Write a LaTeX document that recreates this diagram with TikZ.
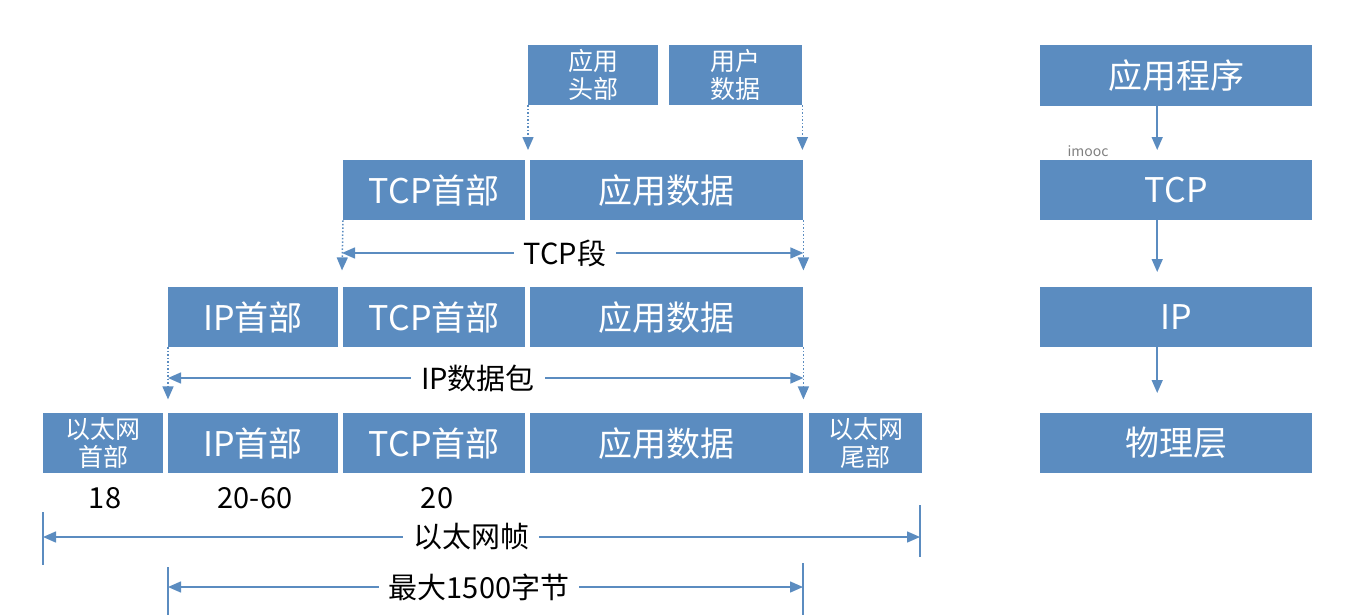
\documentclass[tikz,border=0pt]{standalone}
\usepackage{fontspec}
\setmainfont{Noto Sans CJK SC}
\usetikzlibrary{arrows.meta}
\definecolor{boxblue}{RGB}{91,140,192}

\begin{document}
\begin{tikzpicture}[x=1pt,y=-1pt]
  \tikzset{>={Triangle[length=13pt,width=11pt]}}
  \tikzset{blk/.style={fill=boxblue,text=white,inner sep=0pt,anchor=north west,minimum height=60pt,font=\fontsize{34}{36}\selectfont},
    blksm/.style={blk,align=center,font=\fontsize{25}{28}\selectfont},
    lbl/.style={font=\fontsize{29}{30}\selectfont,inner ysep=2pt,inner xsep=10pt},
    lnk/.style={draw=boxblue,line width=1.5pt},
    dots/.style={lnk,dotted}}
  \useasboundingbox (0,0) rectangle (1364,615);

  % application data
  \node[blksm,minimum width=130pt] (appHdr) at (528,45) {应用\\头部};
  \node[blksm,minimum width=133pt] (usrDat) at (669,45) {用户\\数据};

  % TCP segment
  \node[blk,minimum width=182pt] (tcpA) at (343,160) {TCP首部};
  \node[blk,minimum width=273pt] (datA) at (530,160) {应用数据};

  % IP packet
  \node[blk,minimum width=170pt] (ipB) at (168,287) {IP首部};
  \node[blk,minimum width=182pt] (tcpB) at (343,287) {TCP首部};
  \node[blk,minimum width=273pt] (datB) at (530,287) {应用数据};

  % ethernet frame
  \node[blksm,minimum width=120pt] (ethH) at (43,413) {以太网\\首部};
  \node[blk,minimum width=170pt] (ipC) at (168,413) {IP首部};
  \node[blk,minimum width=182pt] (tcpC) at (343,413) {TCP首部};
  \node[blk,minimum width=273pt] (datC) at (530,413) {应用数据};
  \node[blksm,minimum width=113pt] (ethT) at (809,413) {以太网\\尾部};

  \node[lbl] (n18) at (105,498) {18};
  \node[lbl] (n2060) at (255,498) {20-60};
  \node[lbl] (n20) at (437,498) {20};

  \draw[dots,->,shorten >=10pt] (appHdr.south west) -- (appHdr.south west |- datA.north);
  \draw[dots,->,shorten >=10pt] (usrDat.south east) -- (usrDat.south east |- datA.north);

  \path (tcpA.south west) ++(-1,50) coordinate (segL);
  \path (datA.south east) ++(0,50) coordinate (segR);
  \draw[dots,->] (tcpA.south west) -- (segL);
  \draw[dots,->] (datA.south east) -- (segR);
  \node[lbl] (tcpSeg) at (565,253) {TCP段};
  \draw[lnk,->] (tcpSeg.west) -- (tcpSeg.west -| segL);
  \draw[lnk,->] (tcpSeg.east) -- (tcpSeg.east -| segR);

  \path (ipB.south west) ++(0,52) coordinate (pktL);
  \path (datB.south east) ++(0,52) coordinate (pktR);
  \draw[dots,->] (ipB.south west) -- (pktL);
  \draw[dots,->] (datB.south east) -- (pktR);
  \node[lbl] (ipPkt) at (478,378) {IP数据包};
  \draw[lnk,->] (ipPkt.west) -- (ipPkt.west -| pktL);
  \draw[lnk,->] (ipPkt.east) -- (ipPkt.east -| pktR);

  \coordinate (frmL1) at (43,512);
  \coordinate (frmL2) at (43,565);
  \coordinate (frmR1) at (920,505);
  \coordinate (frmR2) at (920,557);
  \draw[lnk] (frmL1) -- (frmL2);
  \draw[lnk] (frmR1) -- (frmR2);
  \node[lbl] (frame) at (471,537) {以太网帧};
  \draw[lnk,->] (frame.west) -- (frame.west -| frmL1);
  \draw[lnk,->] (frame.east) -- (frame.east -| frmR1);

  \coordinate (mtuL1) at (168,567);
  \coordinate (mtuL2) at (168,615);
  \coordinate (mtuR1) at (803,563);
  \coordinate (mtuR2) at (803,615);
  \draw[lnk] (mtuL1) -- (mtuL2);
  \draw[lnk] (mtuR1) -- (mtuR2);
  \node[lbl] (mtu) at (479,587) {最大1500字节};
  \draw[lnk,->] (mtu.west) -- (mtu.west -| mtuL1);
  \draw[lnk,->] (mtu.east) -- (mtu.east -| mtuR1);

  % layers
  \node[blk,minimum width=272pt,minimum height=61pt] (layApp) at (1040,45) {应用程序};
  \node[blk,minimum width=272pt] (layTcp) at (1040,160) {TCP};
  \node[blk,minimum width=272pt] (layIp) at (1040,287) {IP};
  \node[blk,minimum width=272pt] (layPhy) at (1040,413) {物理层};

  \draw[lnk,->,shorten >=10pt] ([xshift=-19pt]layApp.south) -- ([xshift=-19pt]layTcp.north);
  \draw[lnk,->,shorten >=15pt] ([xshift=-19pt]layTcp.south) -- ([xshift=-19pt]layIp.north);
  \draw[lnk,->,shorten >=20pt] ([xshift=-19pt]layIp.south) -- ([xshift=-19pt]layPhy.north);

  \node[font=\fontsize{14}{14}\selectfont,text=gray] (wm) at (1088,151) {imooc};

\end{tikzpicture}
\end{document}
